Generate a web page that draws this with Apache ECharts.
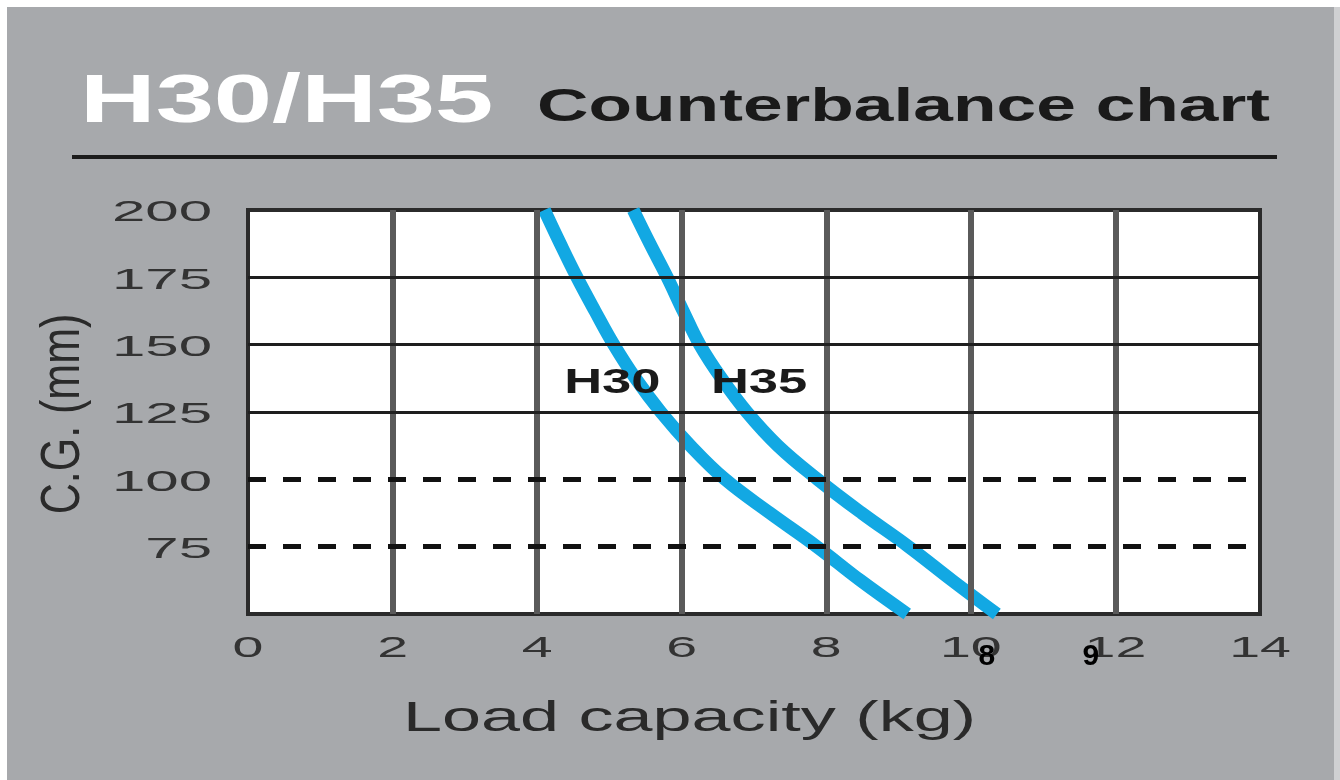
<!DOCTYPE html>
<html>
<head>
<meta charset="utf-8">
<script src="https://cdn.jsdelivr.net/npm/echarts@6/dist/echarts.min.js"></script>
<style>
  html, body { margin: 0; padding: 0; background: #ffffff; }
  #wrap { position: relative; width: 1340px; height: 780px; background: #ffffff; overflow: hidden; }
  #panel { position: absolute; left: 7px; top: 7px; width: 1327px; height: 773px; background: #a7a9ac; }
  #edge { position: absolute; left: 1334px; top: 7px; width: 6px; height: 773px; background: #cfd0d2; }
  #chart { position: absolute; left: 0; top: 0; width: 1340px; height: 780px; }
</style>
</head>
<body>
<div id="wrap">
  <div id="panel"></div>
  <div id="edge"></div>
  <div id="chart"></div>
</div>
<script>
// ---- data ----
const titleMain = 'H30/H35';
const titleSub = 'Counterbalance chart';
const xAxisTitle = 'Load capacity (kg)';
const yAxisTitle = 'C.G. (mm)';

const cgLevels = [200, 187.5, 175, 162.5, 150, 137.5, 125, 112.5, 100, 87.5, 75, 62.5, 50];
const h30Load  = [4.1, 4.32, 4.55, 4.8, 5.06, 5.36, 5.71, 6.12, 6.6, 7.22, 7.87, 8.47, 9.12];
const h35Load  = [5.33, 5.56, 5.8, 6.02, 6.25, 6.55, 6.9, 7.33, 7.88, 8.49, 9.14, 9.74, 10.36];

const xTickValues = [0, 2, 4, 6, 8, 10, 12, 14];
const yTickValues = [75, 100, 125, 150, 175, 200];
const solidGridCG = [125, 150, 175];
const dashedGridCG = [75, 100];

const seriesNames = ['H30', 'H35'];
const seriesLabelPos = [[5.04, 136.5], [7.07, 136.5]];
const extraMarks = ['8', '9'];
const extraMarkLoad = [10.22, 11.66];

// ---- chart ----
const chart = echarts.init(document.getElementById('chart'), null, { renderer: 'canvas' });

const zip = (xs, ys) => xs.map((v, i) => [v, ys[i]]);

const markLineData = solidGridCG.map(v => ({
  yAxis: v,
  lineStyle: { type: 'solid', width: 3, color: '#1e1e1e' }
})).concat(dashedGridCG.map(v => ({
  yAxis: v,
  lineStyle: { type: [18, 17], width: 5, color: '#111111' }
})));

chart.setOption({
  backgroundColor: 'transparent',
  animation: false,
  grid: {
    left: 248, right: 80, top: 210, bottom: 166,
    show: true, backgroundColor: '#ffffff',
    borderColor: '#2b2b2b', borderWidth: 4
  },
  xAxis: {
    type: 'value', min: 0, max: 14, interval: 2, z: 3,
    axisLine: { show: false }, axisTick: { show: false }, axisLabel: { show: false },
    splitLine: { show: true, showMinLine: false, showMaxLine: false,
      lineStyle: { color: '#5a5a5a', width: 6 } }
  },
  yAxis: {
    type: 'value', min: 50, max: 200, interval: 25, z: 3,
    axisLine: { show: false }, axisTick: { show: false }, axisLabel: { show: false },
    splitLine: { show: false }
  },
  series: [
    {
      name: seriesNames[0], type: 'line', data: zip(h30Load, cgLevels),
      smooth: 0.4, symbol: 'none', z: 2,
      lineStyle: { color: '#12a8e3', width: 13 },
      markLine: { silent: true, symbol: ['none', 'none'], label: { show: false }, data: markLineData }
    },
    {
      name: seriesNames[1], type: 'line', data: zip(h35Load, cgLevels),
      smooth: 0.4, symbol: 'none', z: 2,
      lineStyle: { color: '#12a8e3', width: 13 }
    }
  ]
});

const toPx = (x, y) => chart.convertToPixel({ gridIndex: 0 }, [x, y]);
const bottomPx = toPx(0, 50)[1];
const leftPx = toPx(0, 50)[0];

const g = [];
// title
g.push({ type: 'text', x: 80, y: 103, scaleX: 1.54, z: 10,
  style: { text: titleMain, fill: '#ffffff', font: 'bold 68px "Liberation Sans", Arial, sans-serif', textAlign: 'left', textVerticalAlign: 'middle' } });
g.push({ type: 'text', x: 537, y: 108, scaleX: 1.55, z: 10,
  style: { text: titleSub, fill: '#1a1a1a', font: 'bold 46px "Liberation Sans", Arial, sans-serif', textAlign: 'left', textVerticalAlign: 'middle' } });
g.push({ type: 'line', z: 10, shape: { x1: 72, y1: 157, x2: 1277, y2: 157 },
  style: { stroke: '#1c1c1c', lineWidth: 4 } });

// tick labels positioned through the axes
xTickValues.forEach(v => {
  const p = toPx(v, 50);
  g.push({ type: 'text', x: p[0], y: bottomPx + 35, scaleX: 1.85, z: 10,
    style: { text: String(v), fill: '#333333', font: '30px "Liberation Sans", Arial, sans-serif', textAlign: 'center', textVerticalAlign: 'middle' } });
});
yTickValues.forEach(v => {
  const p = toPx(0, v);
  g.push({ type: 'text', x: leftPx - 36, y: p[1] + 3, scaleX: 2.0, z: 10,
    style: { text: String(v), fill: '#333333', font: '30px "Liberation Sans", Arial, sans-serif', textAlign: 'right', textVerticalAlign: 'middle' } });
});

// axis titles
g.push({ type: 'text', x: 403, y: 719, scaleX: 1.67, z: 10,
  style: { text: xAxisTitle, fill: '#2a2a2a', font: '42px "Liberation Sans", Arial, sans-serif', textAlign: 'left', textVerticalAlign: 'middle' } });
g.push({ type: 'text', x: 64, y: 414, rotation: Math.PI / 2, scaleY: 1.3, z: 10,
  style: { text: yAxisTitle, fill: '#2a2a2a', font: '43px "Liberation Sans", Arial, sans-serif', textAlign: 'center', textVerticalAlign: 'middle' } });

// curve labels
seriesNames.forEach((n, i) => {
  const p = toPx(seriesLabelPos[i][0], seriesLabelPos[i][1]);
  g.push({ type: 'text', x: p[0], y: p[1] + 2, scaleX: 1.5, z: 10,
    style: { text: n, fill: '#1a1a1a', font: 'bold 35px "Liberation Sans", Arial, sans-serif', textAlign: 'center', textVerticalAlign: 'middle' } });
});

// extra overlay marks
extraMarks.forEach((t, i) => {
  const p = toPx(extraMarkLoad[i], 50);
  g.push({ type: 'text', x: p[0], y: bottomPx + 43, z: 11,
    style: { text: t, fill: '#000000', font: 'bold 30px "Liberation Sans Narrow", "Liberation Sans", sans-serif', textAlign: 'center', textVerticalAlign: 'middle' } });
});

chart.setOption({ graphic: g });
</script>
</body>
</html>
